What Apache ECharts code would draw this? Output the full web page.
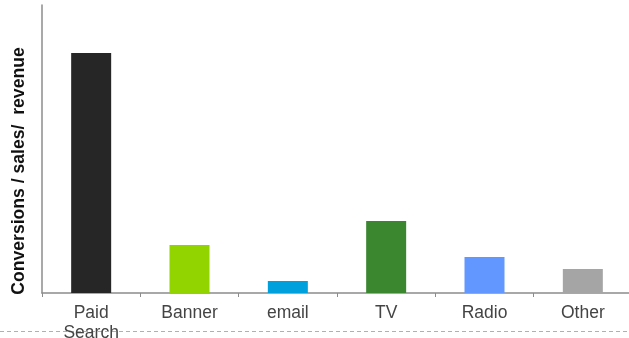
<!DOCTYPE html>
<html>
<head>
<meta charset="utf-8">
<style>
  html, body { margin: 0; padding: 0; background: #ffffff; }
  #chart { width: 629px; height: 338px; }
</style>
<script src="https://cdn.jsdelivr.net/npm/echarts@6/dist/echarts.min.js"></script>
</head>
<body>
<div id="chart"></div>
<script>
// Marketing channels and their relative contribution
const channels = ['Paid\nSearch', 'Banner', 'email', 'TV', 'Radio', 'Other'];
const contribution = [20, 4, 1, 6, 3, 2];
const channelColors = ['#262626', '#92D400', '#00A0DC', '#3A8730', '#6197FF', '#A5A5A5'];
const axisTitle = 'Conversions / sales/  revenue';

const chart = echarts.init(document.getElementById('chart'), null, { renderer: 'canvas' });

chart.setOption({
  animation: false,
  backgroundColor: '#ffffff',
  grid: { left: 42, top: 5, width: 590, bottom: 45, containLabel: false, outerBoundsMode: 'none' },
  xAxis: {
    type: 'category',
    data: channels,
    axisLine: { show: true, lineStyle: { color: '#8c8c8c', width: 1.5 } },
    axisTick: { show: true, length: 4, lineStyle: { color: '#8c8c8c' } },
    axisLabel: {
      color: '#444444',
      fontFamily: 'Liberation Sans, Arial, sans-serif',
      fontSize: 17.5,
      lineHeight: 20,
      margin: 10
    }
  },
  yAxis: {
    type: 'value',
    min: 0,
    max: 24,
    axisLine: { show: true, lineStyle: { color: '#8c8c8c', width: 1.5 } },
    axisTick: { show: false },
    axisLabel: { show: false },
    splitLine: { show: false }
  },
  graphic: [
    {
      type: 'line',
      z: -1,
      shape: { x1: 0, y1: 331.5, x2: 629, y2: 331.5 },
      style: { stroke: '#b0b0b0', lineWidth: 1, lineDash: [4, 3] }
    },
    {
      type: 'text',
      x: 19,
      y: 171,
      rotation: Math.PI / 2,
      style: {
        text: axisTitle,
        fill: '#111111',
        font: 'bold 17.6px "Liberation Sans", Arial, sans-serif',
        align: 'center',
        verticalAlign: 'middle'
      }
    }
  ],
  series: [{
    type: 'bar',
    barWidth: 40,
    data: contribution.map((v, i) => ({ value: v, itemStyle: { color: channelColors[i] } }))
  }]
});
</script>
</body>
</html>
